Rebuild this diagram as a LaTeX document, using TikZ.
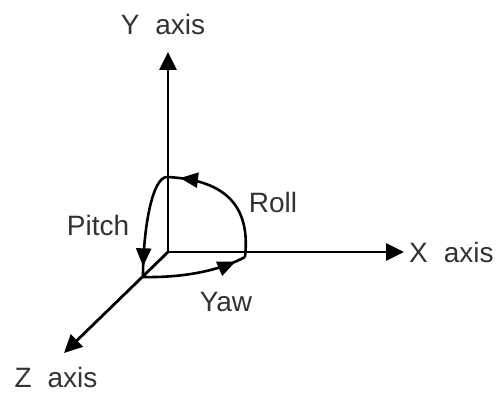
\documentclass[tikz,border=0pt]{standalone}
\usepackage{fontspec}
\setmainfont{Liberation Sans}
\usetikzlibrary{arrows.meta,decorations.markings}
\newcommand{\axlabel}[1]{#1\hspace{16pt}axis}
\tikzset{
  lbl/.style={inner sep=0pt, font=\fontsize{28}{32}\selectfont, text=black!80},
  axisline/.style={line width=2.8pt, -{Triangle[length=18pt,width=17pt]}},
  rot/.style={line width=2.6pt},
  midarrow/.style={postaction={decorate}, decoration={markings,
     mark=at position #1 with {\arrow{Triangle[length=18pt,width=15pt]}}}}
}
\begin{document}
\begin{tikzpicture}[x=1pt,y=-1pt]
\useasboundingbox (0,0) rectangle (499,396);
% coordinates
\coordinate (O) at (168,252);
\coordinate (Ytip) at (168,52);
\coordinate (Xtip) at (404,252);
\coordinate (Ztip) at (64,353);
\coordinate (T) at (167,177);
\coordinate (P) at (143,277);
\coordinate (R) at (245,257);
% axes
\draw[axisline] (O) -- (Ytip);
\draw[axisline] (O) -- (Xtip);
\draw[axisline] (O) -- (Ztip);
% rotations
\draw[rot, midarrow=0.9] (R) .. controls (250,212) and (232,180) .. (T);
\draw[rot, midarrow=0.9] (T) .. controls (152,177) and (143,230) .. (P);
\draw[rot, midarrow=0.9] (P) .. controls (190,278) and (225,268) .. (R);
% labels
\node[lbl] (ylab) at (163,24) {\axlabel{Y}};
\node[lbl, anchor=west] (xlab) at (409,252) {\axlabel{X}};
\node[lbl] (zlab) at (56,377) {\axlabel{Z}};
\node[lbl] (pitch) at (98,225) {Pitch};
\node[lbl] (roll) at (273,202) {Roll};
\node[lbl] (yaw) at (226,302) {Yaw};
\end{tikzpicture}
\end{document}
